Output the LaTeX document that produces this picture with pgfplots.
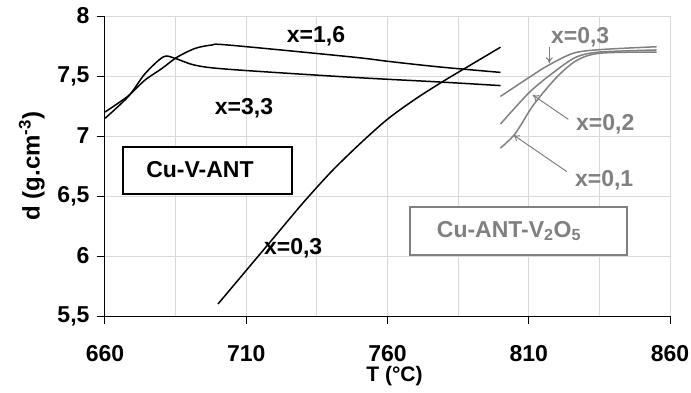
\documentclass[border=0pt]{standalone}
\usepackage{pgfplots}
\pgfplotsset{compat=1.18}
\usepackage{fontspec}
\setmainfont{Liberation Sans}
\usetikzlibrary{arrows.meta}

\definecolor{gridgray}{HTML}{D9D9D9}
\definecolor{sergray}{HTML}{808080}

\newcommand{\bigbf}{\bfseries\fontsize{23}{26}\selectfont}

\begin{document}
\begin{tikzpicture}
\begin{axis}[
    scale only axis,
    width=565pt, height=300pt,
    xmin=660, xmax=860, ymin=5.5, ymax=8,
    xtick={660,710,760,810,860},
    minor xtick={685,735,785,835},
    ytick={5.5,6,6.5,7,7.5,8},
    grid=both,
    major grid style={gridgray, line width=1pt},
    minor grid style={gridgray, line width=1pt},
    axis x line*=bottom, axis y line*=left,
    axis line style={black, line width=1pt, -},
    tick style={black, line width=1pt},
    tick align=outside,
    major tick length=8pt, minor tick length=0pt,
    tick label style={font=\bigbf},
    /pgf/number format/assume math mode=true,
    /pgf/number format/use comma,
    xticklabel style={yshift=-18pt},
    yticklabel style={xshift=-4pt},
    xlabel={T (°C)},
    ylabel={d (g.cm\textsuperscript{-3})},
    xlabel style={font=\bfseries\fontsize{21}{24}\selectfont, yshift=2pt, xshift=7pt},
    ylabel style={font=\bfseries\fontsize{24}{26}\selectfont, yshift=6pt},
    clip=false,
]

% Cu-V-ANT, x=3,3
\addplot[black, line width=1.5pt, smooth, tension=0.5] coordinates {
(660,7.147) (668.3,7.33) (674.2,7.52) (680.7,7.66) (684.8,7.647)
(691.9,7.59) (703.7,7.556) (746.8,7.49) (778.6,7.45) (800,7.42)
};
% Cu-V-ANT, x=1,6
\addplot[black, line width=1.5pt, smooth, tension=0.5] coordinates {
(660,7.2) (668,7.33) (674.2,7.467) (680,7.56) (685.4,7.655) (691.9,7.73)
(697.8,7.758) (703.7,7.758) (746.8,7.66) (761,7.62) (778.6,7.575) (800,7.53)
};
% Cu-V-ANT, x=0,3
\addplot[black, line width=1.5pt, smooth, tension=0.5] coordinates {
(700,5.6) (710,5.88) (720,6.16) (730,6.44) (740,6.7) (750,6.93)
(760,7.14) (770,7.31) (780,7.46) (790,7.6) (800,7.74)
};

% Cu-ANT-V2O5, x=0,3
\addplot[sergray, line width=1.5pt, smooth, tension=0.5] coordinates {
(800,7.33) (810.5,7.494) (817,7.59) (825.8,7.69) (835.3,7.72) (855.3,7.744)
};
% x=0,2
\addplot[sergray, line width=1.5pt, smooth, tension=0.5] coordinates {
(800,7.10) (810.5,7.37) (819.9,7.55) (827,7.66) (835.3,7.70) (855.3,7.717)
};
% x=0,1
\addplot[sergray, line width=1.5pt, smooth, tension=0.5] coordinates {
(800,6.90) (805.2,7.02) (811.7,7.26) (819.9,7.49) (827,7.63) (835.3,7.69) (855.3,7.70)
};

% labels
\node[font=\bigbf] at (axis cs:734.7,7.83) {x=1,6};
\node[font=\bigbf] at (axis cs:709.2,7.233) {x=3,3};
\node[font=\bigbf] at (axis cs:726.6,6.067) {x=0,3};
\node[font=\bigbf, text=sergray] at (axis cs:828.2,7.825) {x=0,3};
\node[font=\bigbf, text=sergray] at (axis cs:837.1,7.1) {x=0,2};
\node[font=\bigbf, text=sergray] at (axis cs:836.7,6.633) {x=0,1};

\draw[sergray, line width=1pt, -{To[length=6pt,width=7pt]}] (axis cs:817.3,7.739) -- (axis cs:817.3,7.606);
\draw[sergray, line width=1pt, -{To[length=6pt,width=7pt]}] (axis cs:824,7.139) -- (axis cs:811.4,7.342);
\draw[sergray, line width=1pt, -{To[length=6pt,width=7pt]}] (axis cs:823.5,6.703) -- (axis cs:804.6,7.008);

% boxes
\draw[black, line width=1.5pt, fill=white] (axis cs:666.4,6.908) rectangle (axis cs:726.2,6.517);
\node[font=\bigbf] at (axis cs:693.6,6.717) {Cu-V-ANT};
\draw[sergray, line width=1.5pt, fill=white] (axis cs:768,6.408) rectangle (axis cs:844.8,6.008);
\node[font=\bigbf, text=sergray] at (axis cs:803,6.208) {Cu-ANT-V\textsubscript{2}O\textsubscript{5}};
\end{axis}
\pgfresetboundingbox
\path (current axis.south west) ++(-105pt,-76pt) rectangle ++(691pt,392pt);
\end{tikzpicture}
\end{document}
